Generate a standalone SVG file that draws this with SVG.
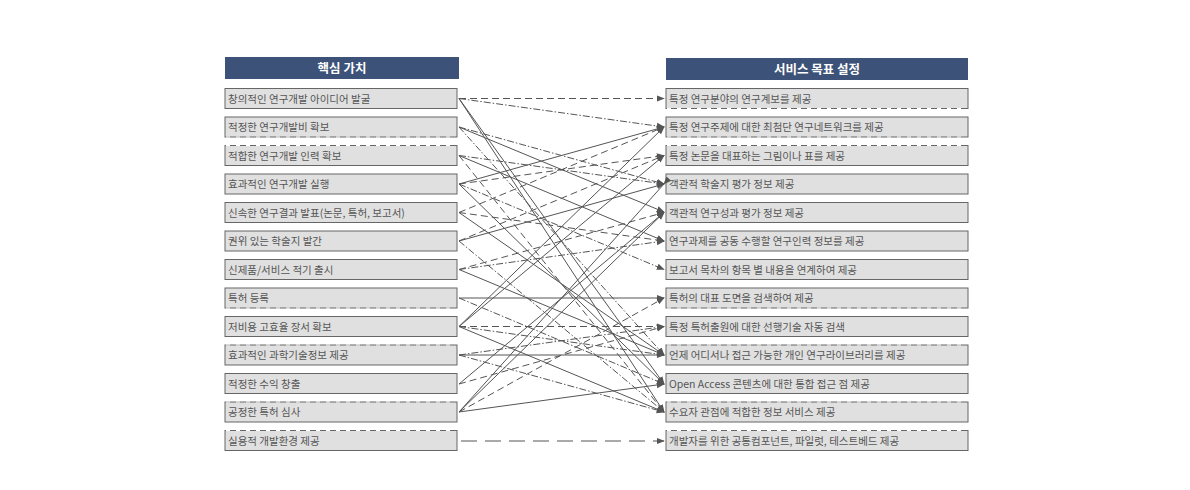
<svg xmlns="http://www.w3.org/2000/svg" width="1190" height="490" viewBox="0 0 1190 490">
<defs>
<marker id="ah" viewBox="0 0 10 10" refX="9" refY="5" markerWidth="8" markerHeight="8" orient="auto"><path d="M0,1 L10,5 L0,9 z" fill="#555"/></marker>
<style>
.hd{fill:#3c5278}
.ht{font-family:"Noto Sans CJK KR","Noto Sans",sans-serif;font-size:12.5px;font-weight:bold;fill:#fff;text-anchor:middle}
.bx{fill:#e0e0e0;stroke:#666;stroke-width:1}
.dt{stroke:#fff;stroke-width:1.2;stroke-dasharray:4 6;fill:none}
.tx{font-family:"Noto Sans CJK KR","Noto Sans",sans-serif;font-size:10.5px;fill:#555}
.c{stroke:#555;stroke-width:1;fill:none;marker-end:url(#ah)}
.d{stroke-dasharray:7 4}
.dd{stroke-dasharray:7 2 1.5 2}
.ld{stroke-dasharray:16 8}
</style>
</defs>
<rect width="1190" height="490" fill="#fff"/>
<g id="hdr-left"><rect class="hd" x="225" y="57" width="234" height="22"/><text class="ht" x="342" y="72.5">핵심 가치</text></g>
<g id="hdr-right"><rect class="hd" x="666" y="58" width="302" height="22"/><text class="ht" x="817" y="73.5">서비스 목표 설정</text></g>

<g id="left">
<g id="L1"><rect class="bx" x="225" y="88.5" width="232" height="20"/><text class="tx" x="228" y="102.5">창의적인 연구개발 아이디어 발굴</text></g>
<g id="L2"><rect class="bx" x="225" y="117" width="232" height="20"/><line class="dt" x1="226" y1="137" x2="456" y2="137"/><text class="tx" x="228" y="131">적정한 연구개발비 확보</text></g>
<g id="L3"><rect class="bx" x="225" y="145.5" width="232" height="20"/><line class="dt" x1="226" y1="145.5" x2="456" y2="145.5"/><text class="tx" x="228" y="159.5">적합한 연구개발 인력 확보</text></g>
<g id="L4"><rect class="bx" x="225" y="174" width="232" height="20"/><text class="tx" x="228" y="188">효과적인 연구개발 실행</text></g>
<g id="L5"><rect class="bx" x="225" y="202.5" width="232" height="20"/><text class="tx" x="228" y="216.5">신속한 연구결과 발표(논문, 특허, 보고서)</text></g>
<g id="L6"><rect class="bx" x="225" y="231" width="232" height="20"/><text class="tx" x="228" y="245">권위 있는 학술지 발간</text></g>
<g id="L7"><rect class="bx" x="225" y="259.5" width="232" height="20"/><text class="tx" x="228" y="273.5">신제품/서비스 적기 출시</text></g>
<g id="L8"><rect class="bx" x="225" y="288" width="232" height="20"/><line class="dt" x1="226" y1="308" x2="456" y2="308"/><text class="tx" x="228" y="302">특허 등록</text></g>
<g id="L9"><rect class="bx" x="225" y="316.5" width="232" height="20"/><text class="tx" x="228" y="330.5">저비용 고효율 장서 확보</text></g>
<g id="L10"><rect class="bx" x="225" y="345" width="232" height="20"/><line class="dt" x1="226" y1="345" x2="456" y2="345"/><text class="tx" x="228" y="359">효과적인 과학기술정보 제공</text></g>
<g id="L11"><rect class="bx" x="225" y="373.5" width="232" height="20"/><text class="tx" x="228" y="387.5">적정한 수익 창출</text></g>
<g id="L12"><rect class="bx" x="225" y="402" width="232" height="20"/><line class="dt" x1="226" y1="402" x2="456" y2="402"/><text class="tx" x="228" y="416">공정한 특허 심사</text></g>
<g id="L13"><rect class="bx" x="225" y="430.5" width="232" height="20"/><line class="dt" x1="226" y1="430.5" x2="456" y2="430.5"/><text class="tx" x="228" y="444.5">실용적 개발환경 제공</text></g>
</g>

<g id="right">
<g id="R1"><rect class="bx" x="666" y="88.5" width="302" height="20"/><line class="dt" x1="667" y1="108.5" x2="967" y2="108.5"/><text class="tx" x="669" y="102.5">특정 연구분야의 연구계보를 제공</text></g>
<g id="R2"><rect class="bx" x="666" y="117" width="302" height="20"/><line class="dt" x1="667" y1="137" x2="967" y2="137"/><text class="tx" x="669" y="131">특정 연구주제에 대한 최첨단 연구네트워크를 제공</text></g>
<g id="R3"><rect class="bx" x="666" y="145.5" width="302" height="20"/><line class="dt" x1="667" y1="145.5" x2="967" y2="145.5"/><text class="tx" x="669" y="159.5">특정 논문을 대표하는 그림이나 표를 제공</text></g>
<g id="R4"><rect class="bx" x="666" y="174" width="302" height="20"/><text class="tx" x="669" y="188">객관적 학술지 평가 정보 제공</text></g>
<g id="R5"><rect class="bx" x="666" y="202.5" width="302" height="20"/><text class="tx" x="669" y="216.5">객관적 연구성과 평가 정보 제공</text></g>
<g id="R6"><rect class="bx" x="666" y="231" width="302" height="20"/><text class="tx" x="669" y="245">연구과제를 공동 수행할 연구인력 정보를 제공</text></g>
<g id="R7"><rect class="bx" x="666" y="259.5" width="302" height="20"/><text class="tx" x="669" y="273.5">보고서 목차의 항목 별 내용을 연계하여 제공</text></g>
<g id="R8"><rect class="bx" x="666" y="288" width="302" height="20"/><line class="dt" x1="667" y1="308" x2="967" y2="308"/><text class="tx" x="669" y="302">특허의 대표 도면을 검색하여 제공</text></g>
<g id="R9"><rect class="bx" x="666" y="316.5" width="302" height="20"/><text class="tx" x="669" y="330.5">특정 특허출원에 대한 선행기술 자동 검색</text></g>
<g id="R10"><rect class="bx" x="666" y="345" width="302" height="20"/><line class="dt" x1="667" y1="345" x2="967" y2="345"/><text class="tx" x="669" y="359">언제 어디서나 접근 가능한 개인 연구라이브러리를 제공</text></g>
<g id="R11"><rect class="bx" x="666" y="373.5" width="302" height="20"/><text class="tx" x="669" y="387.5">Open Access 콘텐츠에 대한 통합 접근 점 제공</text></g>
<g id="R12"><rect class="bx" x="666" y="402" width="302" height="20"/><line class="dt" x1="667" y1="402" x2="967" y2="402"/><text class="tx" x="669" y="416">수요자 관점에 적합한 정보 서비스 제공</text></g>
<g id="R13"><rect class="bx" x="666" y="430.5" width="302" height="20"/><line class="dt" x1="667" y1="430.5" x2="967" y2="430.5"/><text class="tx" x="669" y="444.5">개발자를 위한 공통컴포넌트, 파일럿, 테스트베드 제공</text></g>
</g>

<g id="connectors">
<line class="c d" x1="459" y1="98.5" x2="664" y2="98.5"/>
<line class="c dd" x1="459" y1="98.5" x2="664" y2="127"/>
<line class="c" x1="459" y1="98.5" x2="664" y2="384"/>
<line class="c" x1="459" y1="98.5" x2="664" y2="412"/>
<line class="c dd" x1="459" y1="127" x2="664" y2="184"/>
<line class="c" x1="459" y1="127" x2="664" y2="212"/>
<line class="c dd" x1="459" y1="127" x2="664" y2="355"/>
<line class="c" x1="459" y1="155.5" x2="664" y2="241"/>
<line class="c dd" x1="459" y1="155.5" x2="664" y2="184"/>
<line class="c d" x1="459" y1="155.5" x2="664" y2="412"/>
<line class="c d" x1="459" y1="184" x2="664" y2="155.5"/>
<line class="c" x1="459" y1="184" x2="664" y2="127"/>
<line class="c dd" x1="459" y1="184" x2="664" y2="269.5"/>
<line class="c" x1="459" y1="184" x2="664" y2="384"/>
<line class="c d" x1="459" y1="212.5" x2="664" y2="127"/>
<line class="c" x1="459" y1="212.5" x2="664" y2="355"/>
<line class="c d" x1="459" y1="241" x2="664" y2="155.5"/>
<line class="c" x1="459" y1="241" x2="664" y2="184"/>
<line class="c dd" x1="459" y1="241" x2="664" y2="412"/>
<line class="c d" x1="459" y1="269.5" x2="664" y2="212.5"/>
<line class="c dd" x1="459" y1="269.5" x2="664" y2="241"/>
<line class="c" x1="459" y1="269.5" x2="664" y2="355"/>
<line class="c" x1="459" y1="298" x2="664" y2="298"/>
<line class="c dd" x1="459" y1="298" x2="664" y2="384"/>
<line class="c" x1="459" y1="326.5" x2="664" y2="127"/>
<line class="c" x1="459" y1="326.5" x2="664" y2="155.5"/>
<line class="c d" x1="459" y1="326.5" x2="664" y2="326.5"/>
<line class="c dd" x1="459" y1="326.5" x2="664" y2="355"/>
<line class="c" x1="459" y1="326.5" x2="664" y2="412"/>
<line class="c" x1="459" y1="355" x2="664" y2="355"/>
<line class="c dd" x1="459" y1="355" x2="664" y2="412"/>
<line class="c" x1="459" y1="384" x2="664" y2="212.5"/>
<line class="c d" x1="459" y1="384" x2="664" y2="326.5"/>
<line class="c" x1="664" y1="184" x2="459" y2="412" style="marker-end:none;marker-start:url(#ah)"/>
<line class="c d" x1="459" y1="412" x2="664" y2="298"/>
<line class="c" x1="459" y1="412" x2="664" y2="212.5"/>
<line class="c" x1="459" y1="412" x2="664" y2="384"/>
<line class="c d" x1="459" y1="212.5" x2="664" y2="241"/>
<line class="c dd" x1="459" y1="355" x2="664" y2="326.5"/>
<line class="c ld" x1="461" y1="441" x2="664" y2="441"/>
</g>
</svg>
